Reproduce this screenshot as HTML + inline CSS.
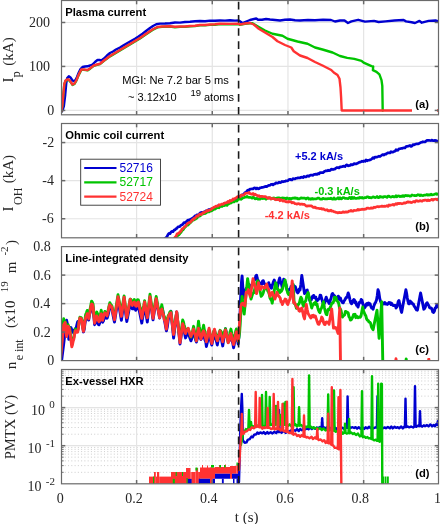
<!DOCTYPE html><html><head><meta charset="utf-8"><style>html,body{margin:0;padding:0;background:#fff;overflow:hidden}svg{display:block;will-change:transform}</style></head><body>
<svg width="440" height="524" viewBox="0 0 440 524">
<rect width="440" height="524" fill="#fff"/>
<defs>
<clipPath id="clipa"><rect x="61.5" y="0.5" width="377.0" height="114.3"/></clipPath>
<clipPath id="clipb"><rect x="61.5" y="123.5" width="377.0" height="114.30000000000001"/></clipPath>
<clipPath id="clipc"><rect x="61.5" y="246.6" width="377.0" height="114.00000000000003"/></clipPath>
<clipPath id="clipd"><rect x="61.5" y="369.5" width="377.0" height="114.30000000000001"/></clipPath>
</defs>
<line x1="136.60" y1="0.5" x2="136.60" y2="114.8" stroke="#e4e4e4" stroke-width="1.2"/>
<line x1="212.28" y1="0.5" x2="212.28" y2="114.8" stroke="#e4e4e4" stroke-width="1.2"/>
<line x1="287.96" y1="0.5" x2="287.96" y2="114.8" stroke="#e4e4e4" stroke-width="1.2"/>
<line x1="363.64" y1="0.5" x2="363.64" y2="114.8" stroke="#e4e4e4" stroke-width="1.2"/>
<line x1="61.5" y1="110.40" x2="438.5" y2="110.40" stroke="#e4e4e4" stroke-width="1.2"/>
<line x1="61.5" y1="66.44" x2="438.5" y2="66.44" stroke="#e4e4e4" stroke-width="1.2"/>
<line x1="61.5" y1="22.48" x2="438.5" y2="22.48" stroke="#e4e4e4" stroke-width="1.2"/>
<g clip-path="url(#clipa)">
<polyline points="61.30,112.00 62.50,110.50 63.80,106.50 65.20,95.00 66.30,83.00 67.20,78.00 68.80,76.30 70.50,77.50 72.50,80.50 74.00,81.30 75.50,80.00 77.00,77.00 78.80,72.50 80.50,69.00 82.50,67.00 85.00,66.50 87.50,66.30 90.00,65.50 92.50,64.50 95.00,62.00 97.50,60.00 99.50,60.00 101.30,60.50 104.00,58.50 107.00,55.50 110.00,53.00 113.00,51.50 116.00,49.50 120.00,47.50 124.00,45.00 127.50,43.00 131.00,41.00 135.00,38.75 138.50,36.50 142.50,33.75 146.00,31.00 150.00,28.00 153.00,26.00 156.30,24.30 160.00,23.60 165.00,23.50 170.00,23.25 175.00,22.50 180.00,22.60 185.00,22.00 190.00,21.80 195.00,21.25 200.00,21.00 205.00,21.20 210.00,20.60 215.00,20.80 220.00,20.50 225.00,20.60 230.00,20.30 235.00,20.60 238.75,20.50 241.00,22.00 242.50,23.00 245.00,22.00 250.00,20.00 256.25,18.50 258.00,19.80 262.00,19.80 266.00,19.00 270.00,19.50 275.00,20.00 280.00,20.50 285.00,19.80 290.00,19.50 295.00,20.20 300.00,20.50 308.00,20.00 315.00,20.20 323.00,19.80 331.00,20.00 335.00,21.50 340.00,20.50 344.50,20.50 348.00,23.00 351.40,21.40 358.20,19.80 365.00,21.60 374.00,20.90 378.60,22.00 385.50,21.40 394.50,20.50 403.60,20.00 406.00,21.40 411.60,22.30 415.00,23.00 419.50,20.90 421.80,22.70 428.60,20.90 435.50,20.50 438.50,21.40" fill="none" stroke="#0000d0" stroke-width="2.4" stroke-linejoin="round" stroke-linecap="round" />
<polyline points="61.30,111.90 62.30,106.40 63.20,96.40 64.30,84.40 65.50,80.90 67.00,79.90 68.80,79.90 70.50,81.90 72.50,84.90 74.50,83.90 76.50,80.40 78.50,75.40 81.25,69.90 84.00,69.90 87.50,70.40 90.50,68.40 93.75,65.90 97.00,64.90 100.00,64.15 104.00,60.90 110.00,56.40 115.00,53.40 120.00,50.40 125.00,47.40 130.00,44.40 135.00,41.40 140.00,38.40 145.00,34.90 152.50,29.90 157.50,27.40 162.00,26.90 170.00,26.65 175.00,27.20 180.00,26.90 185.00,26.90 190.00,26.40 195.00,26.15 200.00,25.40 205.00,25.40 210.00,24.90 215.00,24.70 220.00,24.15 230.00,24.30 238.75,24.15 240.00,24.90 245.00,23.90 250.00,23.40 252.50,23.30 257.50,26.25 265.00,30.50 272.50,33.75 282.50,35.75 287.50,38.75 297.50,41.50 307.50,43.75 315.00,47.50 322.50,49.50 332.50,52.50 340.00,56.00 347.20,57.90 354.30,58.90 361.50,60.80 363.60,62.60 371.50,66.10 373.20,66.50 372.90,70.10 376.50,71.80 379.40,74.40 381.50,80.10 382.30,85.80 382.70,110.50" fill="none" stroke="#00c400" stroke-width="2.4" stroke-linejoin="round" stroke-linecap="round" />
<polyline points="61.30,111.50 62.30,106.00 63.20,96.00 64.30,84.00 65.50,80.50 67.00,79.50 68.80,79.50 70.50,81.50 72.50,84.50 74.50,83.50 76.50,80.00 78.50,75.00 81.25,69.50 84.00,69.50 87.50,70.00 90.50,68.00 93.75,65.50 97.00,64.50 100.00,63.75 104.00,60.50 110.00,56.00 115.00,53.00 120.00,50.00 125.00,47.00 130.00,44.00 135.00,41.00 140.00,38.00 145.00,34.50 152.50,29.50 157.50,27.00 162.00,26.50 170.00,26.25 175.00,26.80 180.00,26.50 185.00,26.50 190.00,26.00 195.00,25.75 200.00,25.00 205.00,25.00 210.00,24.50 215.00,24.30 220.00,23.75 230.00,23.90 238.75,23.75 240.00,24.50 245.00,23.50 250.00,23.00 253.75,24.50 258.75,28.75 265.00,32.50 272.50,37.00 277.50,41.25 285.00,45.00 291.25,47.50 293.75,51.25 300.00,55.50 307.50,58.00 315.00,62.00 322.50,65.50 331.25,70.00 333.75,72.50 337.50,75.00 339.50,78.75 340.50,87.50 341.10,97.30 341.70,110.50 438.50,110.50" fill="none" stroke="#ff3232" stroke-width="2.4" stroke-linejoin="round" stroke-linecap="round" />
</g>
<line x1="238.6" y1="114.8" x2="238.6" y2="0.5" stroke="#1a1a1a" stroke-width="1.6" stroke-dasharray="7.7 5.46"/>
<rect x="412" y="94.4" width="25.0" height="18" fill="#fff"/><text x="415.2" y="107.7" font-family="Liberation Sans, sans-serif" font-weight="bold" font-size="11.2" fill="#000">(a)</text>
<line x1="136.60" y1="114.8" x2="136.60" y2="111.0" stroke="#6a6a6a" stroke-width="1.5"/>
<line x1="136.60" y1="0.5" x2="136.60" y2="4.3" stroke="#6a6a6a" stroke-width="1.5"/>
<line x1="212.28" y1="114.8" x2="212.28" y2="111.0" stroke="#6a6a6a" stroke-width="1.5"/>
<line x1="212.28" y1="0.5" x2="212.28" y2="4.3" stroke="#6a6a6a" stroke-width="1.5"/>
<line x1="287.96" y1="114.8" x2="287.96" y2="111.0" stroke="#6a6a6a" stroke-width="1.5"/>
<line x1="287.96" y1="0.5" x2="287.96" y2="4.3" stroke="#6a6a6a" stroke-width="1.5"/>
<line x1="363.64" y1="114.8" x2="363.64" y2="111.0" stroke="#6a6a6a" stroke-width="1.5"/>
<line x1="363.64" y1="0.5" x2="363.64" y2="4.3" stroke="#6a6a6a" stroke-width="1.5"/>
<line x1="61.5" y1="110.40" x2="65.3" y2="110.40" stroke="#6a6a6a" stroke-width="1.5"/>
<line x1="438.5" y1="110.40" x2="434.7" y2="110.40" stroke="#6a6a6a" stroke-width="1.5"/>
<line x1="61.5" y1="66.44" x2="65.3" y2="66.44" stroke="#6a6a6a" stroke-width="1.5"/>
<line x1="438.5" y1="66.44" x2="434.7" y2="66.44" stroke="#6a6a6a" stroke-width="1.5"/>
<line x1="61.5" y1="22.48" x2="65.3" y2="22.48" stroke="#6a6a6a" stroke-width="1.5"/>
<line x1="438.5" y1="22.48" x2="434.7" y2="22.48" stroke="#6a6a6a" stroke-width="1.5"/>
<rect x="61.5" y="0.5" width="377.0" height="114.3" fill="none" stroke="#6a6a6a" stroke-width="1.2"/>
<text x="65.3" y="15.5" font-family="Liberation Sans, sans-serif" font-weight="bold" font-size="11.2" fill="#000">Plasma current</text>
<text x="122.3" y="84.2" font-family="'Liberation Sans', sans-serif" font-size="11.15" fill="#000" text-anchor="start" >MGI: Ne 7.2 bar 5 ms</text>
<text x="128.0" y="100.5" font-family="'Liberation Sans', sans-serif" font-size="11" fill="#000" text-anchor="start" >~ 3.12x10</text>
<text x="190.4" y="96.2" font-family="'Liberation Sans', sans-serif" font-size="9.5" fill="#000" text-anchor="start" >19</text>
<text x="204.0" y="100.5" font-family="'Liberation Sans', sans-serif" font-size="11" fill="#000" text-anchor="start" >atoms</text>
<line x1="136.60" y1="123.5" x2="136.60" y2="237.8" stroke="#e4e4e4" stroke-width="1.2"/>
<line x1="212.28" y1="123.5" x2="212.28" y2="237.8" stroke="#e4e4e4" stroke-width="1.2"/>
<line x1="287.96" y1="123.5" x2="287.96" y2="237.8" stroke="#e4e4e4" stroke-width="1.2"/>
<line x1="363.64" y1="123.5" x2="363.64" y2="237.8" stroke="#e4e4e4" stroke-width="1.2"/>
<line x1="61.5" y1="218.75" x2="438.5" y2="218.75" stroke="#e4e4e4" stroke-width="1.2"/>
<line x1="61.5" y1="180.65" x2="438.5" y2="180.65" stroke="#e4e4e4" stroke-width="1.2"/>
<line x1="61.5" y1="142.55" x2="438.5" y2="142.55" stroke="#e4e4e4" stroke-width="1.2"/>
<g clip-path="url(#clipb)">
<polyline points="163.00,239.63 164.00,239.32 165.00,238.34 166.00,237.78 167.00,236.60 168.00,234.60 169.00,233.32 170.00,233.71 171.00,232.14 172.00,231.35 173.00,231.65 174.00,230.16 175.00,229.94 176.00,228.70 177.00,228.19 178.00,226.80 179.00,226.76 180.00,226.37 181.00,225.20 182.00,224.84 183.00,224.07 184.00,222.56 185.00,222.86 186.00,222.03 187.00,221.02 188.00,220.04 189.00,220.61 190.00,219.41 191.00,219.06 192.00,218.58 193.00,217.65 194.00,217.28 195.00,215.92 196.00,215.86 197.00,214.73 198.00,214.91 199.00,214.43 200.00,212.94 201.00,212.59 202.00,212.30 203.00,212.95 204.00,211.81 205.00,211.68 206.00,210.80 207.00,210.66 208.00,210.07 209.00,209.59 210.00,209.50 211.00,209.07 212.00,209.09 213.00,208.39 214.00,208.36 215.00,207.88 216.00,207.69 217.00,206.87 218.00,205.78 219.00,206.38 220.00,206.15 221.00,205.73 222.00,204.91 223.00,204.77 224.00,203.73 225.00,204.26 226.00,203.55 227.00,202.81 228.00,202.16 229.00,202.83 230.00,202.56 231.00,200.84 232.00,201.38 233.00,200.37 234.00,199.59 235.00,199.36 236.00,199.60 237.00,199.32 238.00,197.73 239.00,197.83 240.00,196.14 241.00,196.19 242.00,194.76 243.00,194.72 244.00,194.04 245.00,192.55 246.00,192.43 247.00,190.87 248.00,190.10 249.00,190.38 250.00,189.14 251.00,189.00 252.00,188.92 253.00,188.83 254.00,188.05 255.00,187.80 256.00,188.87 257.00,188.00 258.00,188.82 259.00,188.64 260.00,187.83 261.00,187.65 262.00,187.44 263.00,187.32 264.00,186.96 265.00,186.62 266.00,186.41 267.00,186.57 268.00,185.67 269.00,185.27 270.00,185.38 271.00,184.41 272.00,184.22 273.00,184.92 274.00,184.03 275.00,183.82 276.00,182.82 277.00,183.13 278.00,183.11 279.00,182.08 280.00,182.66 281.00,182.44 282.00,181.38 283.00,181.91 284.00,181.42 285.00,181.45 286.00,180.72 287.00,180.95 288.00,180.73 289.00,179.46 290.00,179.24 291.00,179.84 292.00,179.97 293.00,178.71 294.00,178.79 295.00,178.80 296.00,178.23 297.00,178.11 298.00,177.85 299.00,177.74 300.00,177.87 301.00,177.28 302.00,177.20 303.00,177.57 304.00,176.34 305.00,176.88 306.00,176.90 307.00,176.10 308.00,175.76 309.00,176.36 310.00,175.36 311.00,175.07 312.00,175.21 313.00,175.36 314.00,174.31 315.00,174.39 316.00,174.09 317.00,174.48 318.00,173.61 319.00,173.88 320.00,172.61 321.00,172.53 322.00,172.65 323.00,172.67 324.00,171.75 325.00,171.12 326.00,170.68 327.00,170.96 328.00,170.20 329.00,170.77 330.00,170.53 331.00,169.32 332.00,169.16 333.00,169.61 334.00,169.09 335.00,169.03 336.00,168.10 337.00,167.53 338.00,167.50 339.00,167.95 340.00,166.96 341.00,166.81 342.00,166.66 343.00,166.41 344.00,166.14 345.00,166.60 346.00,165.27 347.00,164.81 348.00,165.89 349.00,165.58 350.00,165.50 351.00,164.50 352.00,164.99 353.00,164.73 354.00,163.52 355.00,164.03 356.00,163.93 357.00,163.46 358.00,163.03 359.00,162.40 360.00,162.18 361.00,161.72 362.00,161.20 363.00,161.62 364.00,160.90 365.00,161.33 366.00,159.96 367.00,160.87 368.00,160.27 369.00,160.25 370.00,159.88 371.00,159.54 372.00,158.75 373.00,157.62 374.00,158.31 375.00,157.17 376.00,157.01 377.00,157.18 378.00,156.64 379.00,156.15 380.00,156.54 381.00,155.74 382.00,155.02 383.00,154.55 384.00,155.06 385.00,154.18 386.00,154.27 387.00,153.32 388.00,152.76 389.00,152.89 390.00,152.94 391.00,151.70 392.00,152.22 393.00,152.06 394.00,151.56 395.00,151.24 396.00,149.76 397.00,150.28 398.00,150.27 399.00,148.79 400.00,148.76 401.00,148.41 402.00,148.47 403.00,148.03 404.00,147.81 405.00,147.94 406.00,146.56 407.00,146.34 408.00,146.15 409.00,145.86 410.00,145.48 411.00,146.46 412.00,146.00 413.00,144.62 414.00,144.90 415.00,144.35 416.00,144.04 417.00,143.80 418.00,143.91 419.00,143.53 420.00,142.91 421.00,142.38 422.00,142.27 423.00,141.68 424.00,141.98 425.00,141.91 426.00,141.13 427.00,140.41 428.00,140.34 429.00,140.40 430.00,140.52 431.00,140.56 432.00,140.01 433.00,140.71 434.00,140.56 435.00,140.40 436.00,140.58 437.00,141.01 438.00,141.56" fill="none" stroke="#0000d0" stroke-width="2.7" stroke-linejoin="round" stroke-linecap="round" />
<polyline points="173.00,240.63 174.00,239.41 175.00,238.79 176.00,237.40 177.00,236.05 178.00,235.30 179.00,234.80 180.00,233.42 181.00,232.31 182.00,230.49 183.00,229.87 184.00,228.45 185.00,227.24 186.00,226.11 187.00,225.22 188.00,225.18 189.00,224.00 190.00,222.93 191.00,222.21 192.00,220.65 193.00,220.11 194.00,219.84 195.00,219.28 196.00,218.74 197.00,218.07 198.00,216.25 199.00,216.34 200.00,215.90 201.00,215.13 202.00,214.14 203.00,214.03 204.00,212.96 205.00,213.61 206.00,213.10 207.00,212.24 208.00,211.49 209.00,211.93 210.00,211.05 211.00,211.07 212.00,210.61 213.00,209.74 214.00,209.22 215.00,209.09 216.00,208.46 217.00,207.69 218.00,207.51 219.00,207.83 220.00,206.36 221.00,206.04 222.00,206.52 223.00,205.70 224.00,205.73 225.00,205.31 226.00,204.80 227.00,205.39 228.00,203.94 229.00,203.79 230.00,203.02 231.00,203.14 232.00,202.17 233.00,201.80 234.00,201.98 235.00,201.01 236.00,200.97 237.00,201.08 238.00,199.59 239.00,199.14 240.00,198.95 241.00,199.29 242.00,198.66 243.00,197.79 244.00,197.58 245.00,197.03 246.00,197.08 247.00,196.33 248.00,197.19 249.00,197.41 250.00,197.44 251.00,197.50 252.00,198.19 253.00,197.25 254.00,197.80 255.00,198.86 256.00,198.71 257.00,198.32 258.00,199.19 259.00,198.85 260.00,199.25 261.00,198.48 262.00,198.32 263.00,198.64 264.00,198.19 265.00,198.50 266.00,199.29 267.00,198.38 268.00,197.91 269.00,197.93 270.00,198.08 271.00,198.91 272.00,198.31 273.00,198.20 274.00,197.92 275.00,199.16 276.00,198.37 277.00,198.07 278.00,197.85 279.00,197.84 280.00,198.00 281.00,198.70 282.00,197.96 283.00,197.80 284.00,198.43 285.00,198.09 286.00,199.13 287.00,197.90 288.00,198.47 289.00,198.80 290.00,198.29 291.00,199.09 292.00,198.37 293.00,198.04 294.00,198.28 295.00,197.77 296.00,198.32 297.00,198.08 298.00,198.99 299.00,198.92 300.00,198.46 301.00,197.82 302.00,198.14 303.00,198.13 304.00,198.09 305.00,198.13 306.00,199.04 307.00,198.02 308.00,197.91 309.00,199.14 310.00,198.65 311.00,199.25 312.00,198.44 313.00,199.14 314.00,198.81 315.00,199.01 316.00,198.93 317.00,198.57 318.00,198.00 319.00,198.16 320.00,199.08 321.00,199.10 322.00,199.13 323.00,198.30 324.00,198.74 325.00,198.93 326.00,198.70 327.00,198.93 328.00,198.52 329.00,198.69 330.00,198.72 331.00,198.13 332.00,199.03 333.00,199.07 334.00,197.83 335.00,199.07 336.00,199.05 337.00,198.62 338.00,197.72 339.00,198.89 340.00,197.78 341.00,198.93 342.00,198.48 343.00,197.60 344.00,197.72 345.00,198.35 346.00,198.23 347.00,198.45 348.00,198.68 349.00,197.66 350.00,197.33 351.00,198.59 352.00,197.29 353.00,198.47 354.00,197.37 355.00,198.32 356.00,198.25 357.00,198.36 358.00,197.87 359.00,198.30 360.00,197.32 361.00,197.94 362.00,197.43 363.00,198.19 364.00,197.99 365.00,197.53 366.00,197.58 367.00,196.84 368.00,196.82 369.00,197.57 370.00,197.39 371.00,197.89 372.00,197.50 373.00,196.81 374.00,197.09 375.00,197.62 376.00,197.25 377.00,196.50 378.00,197.62 379.00,197.57 380.00,196.50 381.00,197.09 382.00,196.82 383.00,197.35 384.00,196.64 385.00,196.49 386.00,196.80 387.00,197.42 388.00,196.16 389.00,196.14 390.00,196.81 391.00,197.13 392.00,196.57 393.00,196.41 394.00,196.96 395.00,196.81 396.00,195.77 397.00,196.87 398.00,195.86 399.00,195.97 400.00,196.67 401.00,196.04 402.00,196.52 403.00,195.58 404.00,196.52 405.00,195.50 406.00,195.41 407.00,195.84 408.00,195.57 409.00,195.81 410.00,196.27 411.00,195.94 412.00,194.91 413.00,195.29 414.00,195.56 415.00,195.43 416.00,195.70 417.00,195.33 418.00,194.71 419.00,194.89 420.00,195.69 421.00,194.93 422.00,195.44 423.00,195.69 424.00,195.12 425.00,195.12 426.00,194.96 427.00,194.48 428.00,195.26 429.00,194.57 430.00,195.13 431.00,194.21 432.00,194.94 433.00,194.76 434.00,194.45 435.00,194.15 436.00,193.66 437.00,194.48 438.00,193.84" fill="none" stroke="#00c400" stroke-width="2.7" stroke-linejoin="round" stroke-linecap="round" />
<polyline points="171.00,241.17 172.00,240.37 173.00,239.48 174.00,238.72 175.00,237.30 176.00,236.40 177.00,233.99 178.00,233.45 179.00,233.14 180.00,231.75 181.00,231.13 182.00,229.04 183.00,228.55 184.00,227.21 185.00,226.61 186.00,225.63 187.00,223.82 188.00,223.27 189.00,222.52 190.00,222.58 191.00,221.54 192.00,219.87 193.00,219.98 194.00,218.28 195.00,218.17 196.00,216.70 197.00,215.75 198.00,216.19 199.00,214.58 200.00,214.06 201.00,214.60 202.00,213.92 203.00,212.57 204.00,212.98 205.00,211.85 206.00,211.58 207.00,210.46 208.00,211.02 209.00,210.20 210.00,210.12 211.00,209.56 212.00,208.26 213.00,207.90 214.00,207.18 215.00,206.71 216.00,206.16 217.00,206.05 218.00,206.03 219.00,204.75 220.00,205.25 221.00,204.41 222.00,204.00 223.00,204.35 224.00,203.51 225.00,202.91 226.00,202.78 227.00,202.73 228.00,201.45 229.00,202.25 230.00,200.39 231.00,200.89 232.00,200.50 233.00,198.83 234.00,199.44 235.00,198.39 236.00,198.22 237.00,196.96 238.00,196.55 239.00,196.23 240.00,196.77 241.00,195.16 242.00,195.40 243.00,195.10 244.00,194.78 245.00,193.60 246.00,193.28 247.00,193.17 248.00,193.19 249.00,192.50 250.00,193.65 251.00,193.97 252.00,194.30 253.00,193.45 254.00,195.02 255.00,194.13 256.00,194.78 257.00,195.46 258.00,196.19 259.00,195.68 260.00,196.79 261.00,196.46 262.00,196.33 263.00,196.54 264.00,196.54 265.00,196.60 266.00,196.90 267.00,197.85 268.00,198.48 269.00,197.51 270.00,197.55 271.00,199.06 272.00,198.62 273.00,198.64 274.00,198.59 275.00,199.29 276.00,199.80 277.00,199.48 278.00,199.62 279.00,199.30 280.00,200.70 281.00,199.65 282.00,200.49 283.00,201.17 284.00,200.38 285.00,201.41 286.00,201.92 287.00,201.66 288.00,202.08 289.00,201.32 290.00,201.98 291.00,201.78 292.00,202.95 293.00,202.37 294.00,202.79 295.00,203.75 296.00,203.74 297.00,204.11 298.00,203.57 299.00,203.81 300.00,204.35 301.00,204.19 302.00,204.12 303.00,204.48 304.00,204.31 305.00,204.83 306.00,205.91 307.00,206.10 308.00,205.86 309.00,205.91 310.00,205.91 311.00,205.79 312.00,206.27 313.00,207.21 314.00,207.56 315.00,207.08 316.00,207.90 317.00,208.11 318.00,208.23 319.00,208.41 320.00,208.77 321.00,208.45 322.00,209.15 323.00,208.78 324.00,209.30 325.00,209.92 326.00,210.04 327.00,209.71 328.00,210.85 329.00,210.66 330.00,210.79 331.00,210.22 332.00,211.20 333.00,211.01 334.00,211.82 335.00,211.76 336.00,212.48 337.00,212.47 338.00,212.90 339.00,212.32 340.00,212.59 341.00,212.59 342.00,212.57 343.00,211.76 344.00,212.31 345.00,212.21 346.00,211.82 347.00,212.08 348.00,211.92 349.00,211.16 350.00,211.04 351.00,210.38 352.00,211.17 353.00,211.16 354.00,210.37 355.00,210.52 356.00,210.41 357.00,210.27 358.00,209.34 359.00,210.04 360.00,209.61 361.00,209.61 362.00,209.15 363.00,209.31 364.00,209.40 365.00,209.09 366.00,209.09 367.00,208.00 368.00,208.06 369.00,208.34 370.00,208.51 371.00,207.77 372.00,208.29 373.00,208.07 374.00,207.11 375.00,207.58 376.00,207.10 377.00,206.72 378.00,206.69 379.00,206.81 380.00,206.48 381.00,206.36 382.00,205.99 383.00,206.45 384.00,206.19 385.00,206.37 386.00,206.20 387.00,205.56 388.00,206.35 389.00,204.94 390.00,205.37 391.00,204.99 392.00,204.97 393.00,204.36 394.00,205.16 395.00,204.32 396.00,203.65 397.00,204.26 398.00,203.33 399.00,203.76 400.00,203.28 401.00,203.46 402.00,203.84 403.00,203.50 404.00,202.79 405.00,203.19 406.00,202.80 407.00,202.27 408.00,201.80 409.00,202.28 410.00,202.09 411.00,202.54 412.00,202.46 413.00,201.85 414.00,201.39 415.00,202.05 416.00,200.70 417.00,200.75 418.00,201.29 419.00,201.26 420.00,200.50 421.00,201.06 422.00,201.31 423.00,200.47 424.00,200.42 425.00,200.02 426.00,199.99 427.00,200.82 428.00,199.87 429.00,200.57 430.00,200.38 431.00,199.84 432.00,199.28 433.00,200.19 434.00,199.42 435.00,199.21 436.00,198.98 437.00,199.82 438.00,199.04" fill="none" stroke="#ff3232" stroke-width="2.7" stroke-linejoin="round" stroke-linecap="round" />
</g>
<line x1="238.6" y1="237.8" x2="238.6" y2="123.5" stroke="#1a1a1a" stroke-width="1.6" stroke-dasharray="7.7 5.46"/>
<rect x="412" y="216.7" width="25.0" height="18" fill="#fff"/><text x="415.2" y="230.0" font-family="Liberation Sans, sans-serif" font-weight="bold" font-size="11.2" fill="#000">(b)</text>
<line x1="136.60" y1="237.8" x2="136.60" y2="234.0" stroke="#6a6a6a" stroke-width="1.5"/>
<line x1="136.60" y1="123.5" x2="136.60" y2="127.3" stroke="#6a6a6a" stroke-width="1.5"/>
<line x1="212.28" y1="237.8" x2="212.28" y2="234.0" stroke="#6a6a6a" stroke-width="1.5"/>
<line x1="212.28" y1="123.5" x2="212.28" y2="127.3" stroke="#6a6a6a" stroke-width="1.5"/>
<line x1="287.96" y1="237.8" x2="287.96" y2="234.0" stroke="#6a6a6a" stroke-width="1.5"/>
<line x1="287.96" y1="123.5" x2="287.96" y2="127.3" stroke="#6a6a6a" stroke-width="1.5"/>
<line x1="363.64" y1="237.8" x2="363.64" y2="234.0" stroke="#6a6a6a" stroke-width="1.5"/>
<line x1="363.64" y1="123.5" x2="363.64" y2="127.3" stroke="#6a6a6a" stroke-width="1.5"/>
<line x1="61.5" y1="218.75" x2="65.3" y2="218.75" stroke="#6a6a6a" stroke-width="1.5"/>
<line x1="438.5" y1="218.75" x2="434.7" y2="218.75" stroke="#6a6a6a" stroke-width="1.5"/>
<line x1="61.5" y1="180.65" x2="65.3" y2="180.65" stroke="#6a6a6a" stroke-width="1.5"/>
<line x1="438.5" y1="180.65" x2="434.7" y2="180.65" stroke="#6a6a6a" stroke-width="1.5"/>
<line x1="61.5" y1="142.55" x2="65.3" y2="142.55" stroke="#6a6a6a" stroke-width="1.5"/>
<line x1="438.5" y1="142.55" x2="434.7" y2="142.55" stroke="#6a6a6a" stroke-width="1.5"/>
<rect x="61.5" y="123.5" width="377.0" height="114.30000000000001" fill="none" stroke="#6a6a6a" stroke-width="1.2"/>
<text x="65.3" y="138.5" font-family="Liberation Sans, sans-serif" font-weight="bold" font-size="11.2" fill="#000">Ohmic coil current</text>
<text x="295.0" y="160.0" font-family="'Liberation Sans', sans-serif" font-size="11" fill="#0000d0" text-anchor="start" font-weight="bold">+5.2 kA/s</text>
<text x="314.5" y="194.6" font-family="'Liberation Sans', sans-serif" font-size="11" fill="#00c400" text-anchor="start" font-weight="bold">-0.3 kA/s</text>
<text x="264.7" y="218.8" font-family="'Liberation Sans', sans-serif" font-size="11" fill="#ff3232" text-anchor="start" font-weight="bold">-4.2 kA/s</text>
<rect x="80.7" y="159.2" width="79.8" height="46" fill="#fff" stroke="#333" stroke-width="0.9"/>
<line x1="84.2" y1="168.0" x2="116.5" y2="168.0" stroke="#0000d0" stroke-width="2.2"/>
<text x="119.5" y="172.1" font-family="'Liberation Sans', sans-serif" font-size="12" fill="#0000d0" text-anchor="start" >52716</text>
<line x1="84.2" y1="182.3" x2="116.5" y2="182.3" stroke="#00c400" stroke-width="2.2"/>
<text x="119.5" y="186.4" font-family="'Liberation Sans', sans-serif" font-size="12" fill="#00c400" text-anchor="start" >52717</text>
<line x1="84.2" y1="196.6" x2="116.5" y2="196.6" stroke="#ff3232" stroke-width="2.2"/>
<text x="119.5" y="200.7" font-family="'Liberation Sans', sans-serif" font-size="12" fill="#ff3232" text-anchor="start" >52724</text>
<line x1="136.60" y1="246.6" x2="136.60" y2="360.6" stroke="#e4e4e4" stroke-width="1.2"/>
<line x1="212.28" y1="246.6" x2="212.28" y2="360.6" stroke="#e4e4e4" stroke-width="1.2"/>
<line x1="287.96" y1="246.6" x2="287.96" y2="360.6" stroke="#e4e4e4" stroke-width="1.2"/>
<line x1="363.64" y1="246.6" x2="363.64" y2="360.6" stroke="#e4e4e4" stroke-width="1.2"/>
<line x1="61.5" y1="332.10" x2="438.5" y2="332.10" stroke="#e4e4e4" stroke-width="1.2"/>
<line x1="61.5" y1="303.60" x2="438.5" y2="303.60" stroke="#e4e4e4" stroke-width="1.2"/>
<line x1="61.5" y1="275.10" x2="438.5" y2="275.10" stroke="#e4e4e4" stroke-width="1.2"/>
<g clip-path="url(#clipc)">
<polyline points="61.50,361.50 62.23,355.60 62.97,349.70 63.70,343.80 64.42,337.93 65.15,332.05 65.88,326.18 66.60,320.30 67.35,323.83 68.10,329.00 68.80,339.40 69.53,335.47 70.27,330.45 71.00,327.60 71.75,330.10 72.50,329.69 73.25,332.19 74.00,333.50 74.72,332.52 75.44,328.49 76.16,327.98 76.88,324.88 77.60,321.80 78.37,321.31 79.13,320.92 79.90,319.86 81.30,319.33 82.03,323.80 82.77,327.28 83.50,331.93 84.23,329.39 84.97,323.36 85.70,319.54 86.45,319.16 87.20,315.69 87.95,319.01 88.70,320.08 89.42,315.12 90.15,312.40 90.88,309.66 91.60,306.28 92.35,309.57 93.10,310.84 93.85,316.75 94.60,324.72 95.33,323.22 96.07,320.55 96.80,319.11 97.53,321.92 98.27,324.26 99.00,324.79 99.73,322.88 100.47,318.31 101.20,316.53 102.60,322.28 103.37,321.04 104.13,317.94 104.90,316.06 105.63,317.88 106.37,317.44 107.10,318.26 108.00,315.42 108.90,311.53 109.80,305.83 110.80,307.56 111.80,307.21 112.70,313.20 113.60,318.13 114.50,322.07 115.20,317.56 115.90,313.05 116.60,308.53 117.30,304.02 118.00,299.51 118.85,304.73 119.70,309.94 120.55,315.16 121.40,320.37 122.30,313.88 123.20,307.39 124.10,300.90 125.00,307.79 125.90,314.69 126.80,321.58 127.65,317.04 128.50,312.49 129.35,307.95 130.20,303.41 130.90,305.52 131.60,306.00 132.30,308.86 133.30,308.71 134.30,305.45 135.70,310.39 136.60,308.85 137.50,306.00 138.40,306.12 139.25,310.37 140.10,314.63 140.95,318.88 141.80,323.14 142.73,317.23 143.67,311.32 144.60,305.41 145.50,310.93 146.40,316.46 147.30,321.98 148.20,314.06 149.10,306.13 150.00,298.21 150.75,303.63 151.50,309.05 152.25,314.48 153.00,319.90 153.80,314.88 154.60,309.87 155.40,304.85 156.20,299.84 157.05,304.36 157.90,308.89 158.75,313.42 159.60,317.95 160.33,314.14 161.07,310.47 161.80,307.14 162.70,310.24 163.60,315.25 164.30,319.15 165.00,323.05 165.70,326.95 166.40,330.85 167.30,326.99 168.20,320.18 169.10,315.97 170.00,315.54 170.90,311.27 171.80,320.22 172.70,329.16 173.60,338.11 174.38,331.55 175.15,324.98 175.92,318.42 176.70,311.86 177.52,319.92 178.35,327.97 179.18,336.03 180.00,344.09 180.90,337.82 181.80,331.55 182.70,325.29 183.40,328.61 184.10,330.58 184.80,334.31 185.50,337.93 186.40,335.63 187.30,332.42 188.20,331.51 189.10,335.47 190.00,338.24 190.90,340.88 191.80,338.53 192.70,334.15 193.60,329.20 194.30,333.34 195.00,337.24 195.70,340.25 196.40,342.10 197.45,338.07 198.50,333.12 199.30,335.39 200.10,337.48 200.90,339.55 201.80,338.01 202.70,335.83 203.60,331.93 204.30,336.64 205.00,340.32 205.70,341.37 206.40,346.53 207.30,342.38 208.20,337.41 209.10,334.83 210.00,338.52 210.90,341.92 211.80,345.08 212.70,340.72 213.60,337.12 214.50,331.42 215.20,333.93 215.90,338.94 216.60,341.87 217.30,344.99 218.20,339.88 219.10,338.13 220.00,332.40 220.90,335.48 221.80,341.30 222.70,345.91 223.40,341.64 224.10,337.37 224.80,333.09 225.50,328.82 226.40,333.09 227.30,337.44 228.20,341.29 229.10,340.59 230.00,336.97 230.90,334.57 231.80,340.24 232.70,342.77 233.60,347.85 234.30,344.07 235.00,339.27 235.70,337.12 236.40,332.95 237.30,338.20 238.20,343.95 239.50,330.00 240.50,300.00 241.50,282.00 242.10,275.90 242.80,286.80 243.50,297.70 244.50,295.21 245.50,290.90 246.20,288.31 246.90,288.09 247.60,288.32 248.30,285.50 249.03,284.44 249.77,287.01 250.50,287.00 251.33,286.13 252.17,284.86 253.00,282.70 253.70,281.38 254.40,279.70 255.10,279.67 255.80,276.01 256.50,275.20 257.50,278.95 258.50,281.40 259.35,282.61 260.20,283.48 261.05,283.35 261.90,284.10 262.60,280.85 263.30,280.70 264.20,283.61 265.10,284.06 266.00,286.80 266.90,286.34 267.80,285.63 268.70,282.70 269.40,284.96 270.10,285.14 270.80,287.97 271.50,288.20 272.40,285.10 273.30,282.16 274.20,280.00 275.10,282.96 276.00,285.96 276.90,288.20 277.60,286.24 278.30,283.27 279.00,280.26 279.70,278.00 280.60,282.18 281.50,284.24 282.40,288.20 283.70,279.30 284.52,281.96 285.34,282.36 286.16,285.08 286.98,289.76 287.80,290.90 288.53,289.69 289.27,290.02 290.00,290.00 291.00,286.57 292.00,286.00 292.83,286.95 293.67,285.65 294.50,286.30 295.33,286.76 296.17,289.38 297.00,292.00 297.75,292.88 298.50,291.82 299.25,288.91 300.00,290.00 300.90,284.15 301.80,275.40 302.70,281.43 303.60,287.47 304.50,293.50 305.40,290.96 306.30,291.12 307.20,290.00 308.10,293.71 309.00,298.11 309.90,300.80 310.64,298.57 311.38,299.68 312.12,296.84 312.86,297.24 313.60,295.40 314.32,297.85 315.04,297.85 315.76,297.05 316.48,300.25 317.20,300.80 317.92,299.51 318.64,299.38 319.36,298.47 320.08,295.22 320.80,295.40 321.70,298.62 322.60,301.86 323.50,304.40 324.40,303.36 325.30,299.96 326.20,297.20 326.90,299.14 327.60,301.21 328.30,300.84 329.00,303.50 329.72,302.65 330.44,299.76 331.16,297.94 331.88,294.39 332.60,293.50 333.32,294.67 334.04,295.41 334.76,295.86 335.48,299.31 336.20,299.00 336.90,299.61 337.60,297.87 338.30,296.14 339.00,297.00 339.70,299.67 340.40,298.02 341.10,300.38 341.80,301.69 342.50,302.60 343.20,302.84 343.90,301.30 344.60,300.23 345.30,299.00 346.02,297.54 346.75,297.53 347.48,295.52 348.20,293.00 349.02,295.24 349.85,299.34 350.68,302.53 351.50,303.80 352.25,302.81 353.00,300.57 353.75,299.56 354.50,300.00 355.20,302.90 355.90,301.87 356.60,305.17 357.30,304.62 358.00,307.00 358.80,304.22 359.60,302.11 360.40,302.31 361.20,299.40 362.00,300.24 362.80,303.61 363.60,306.84 364.40,308.00 365.22,307.09 366.04,304.43 366.86,303.45 367.68,305.06 368.50,303.00 369.27,303.39 370.03,303.73 370.80,306.18 371.57,308.04 372.33,307.54 373.10,309.20 373.95,305.73 374.80,303.59 375.65,302.22 376.50,300.00 377.25,295.75 378.00,289.70 378.87,292.33 379.73,298.47 380.60,301.60 381.45,302.78 382.30,302.99 383.15,303.03 384.00,304.00 384.84,302.46 385.68,303.93 386.52,303.60 387.36,304.41 388.20,303.80 388.92,302.60 389.63,303.13 390.35,302.86 391.07,304.56 391.78,303.39 392.50,305.00 393.22,305.44 393.93,305.46 394.65,305.46 395.37,305.34 396.08,308.01 396.80,307.00 397.53,304.77 398.27,301.39 399.00,300.50 399.87,304.72 400.73,309.28 401.60,312.40 402.32,308.62 403.03,304.83 403.75,301.05 404.47,297.27 405.18,293.48 405.90,289.70 406.60,293.19 407.30,298.00 408.00,301.36 408.70,303.80 409.47,303.78 410.23,301.08 411.00,302.00 411.77,302.69 412.55,304.03 413.33,303.94 414.10,306.00 414.93,307.05 415.75,308.64 416.57,309.96 417.40,310.20 418.20,305.90 419.00,301.60 419.80,297.30 420.60,293.00 421.40,297.05 422.20,301.10 423.00,305.15 423.80,309.20 424.62,308.41 425.45,306.74 426.28,303.68 427.10,302.70 427.90,304.38 428.70,305.35 429.50,307.50 430.30,308.00 431.12,307.89 431.95,309.16 432.78,311.99 433.60,312.40 434.40,311.27 435.20,307.83 436.00,307.71 436.80,305.00 437.60,306.63 438.40,306.97 439.20,307.13 440.00,308.00" fill="none" stroke="#0000d0" stroke-width="2.9" stroke-linejoin="round" stroke-linecap="round" />
<polyline points="60.90,352.00 61.70,342.00 62.50,332.00 63.70,318.80 64.60,321.93 65.50,322.00 66.60,334.19 67.35,327.99 68.10,324.64 68.85,326.77 69.60,327.46 70.33,333.19 71.07,338.92 71.80,344.65 72.50,341.73 73.20,338.92 73.93,337.04 74.67,332.04 75.40,329.05 76.13,331.03 76.87,329.24 77.60,330.96 78.37,327.99 79.13,321.58 79.90,317.30 81.30,317.68 82.03,320.86 82.77,325.58 83.50,330.27 84.23,324.95 84.97,319.62 85.70,314.29 86.45,312.78 87.20,310.44 87.95,311.91 88.70,316.37 89.42,312.56 90.15,308.74 90.88,304.93 91.60,301.12 92.35,302.35 93.10,304.31 93.85,312.63 94.60,320.96 95.33,316.44 96.07,313.67 96.80,312.09 97.53,313.64 98.27,316.45 99.00,319.92 99.73,315.96 100.47,314.33 101.20,310.20 102.60,318.00 103.37,315.54 104.13,314.76 104.90,311.43 105.63,313.28 106.37,313.85 107.10,313.16 108.00,311.13 108.90,306.47 109.80,302.77 110.80,304.71 111.80,305.55 112.70,310.58 113.60,313.31 114.50,316.98 115.20,312.52 115.90,308.07 116.60,303.62 117.30,299.16 118.00,294.71 118.85,299.21 119.70,303.72 120.55,308.23 121.40,312.74 122.30,307.14 123.20,301.54 124.10,295.94 125.00,302.89 125.90,309.83 126.80,316.77 127.65,312.36 128.50,307.95 129.35,303.54 130.20,299.13 130.90,299.38 131.60,301.99 132.30,303.32 133.30,301.49 134.30,299.46 135.70,303.38 136.60,301.21 137.50,299.79 138.40,299.96 139.25,303.71 140.10,307.46 140.95,311.21 141.80,314.96 142.73,309.18 143.67,306.05 144.60,300.64 145.50,306.03 146.40,311.42 147.30,316.81 148.20,309.26 149.10,301.72 150.00,294.17 150.75,299.43 151.50,304.69 152.25,309.95 153.00,315.21 153.80,310.54 154.60,305.88 155.40,301.21 156.20,296.55 157.05,301.27 157.90,306.00 158.75,310.73 159.60,315.45 160.33,312.86 161.07,308.77 161.80,304.67 162.70,310.18 163.60,316.15 164.30,316.54 165.00,318.37 165.70,322.35 166.40,323.76 167.30,319.84 168.20,315.73 169.10,314.19 170.00,311.87 170.90,311.52 171.80,318.53 172.70,325.54 173.60,332.54 174.38,327.47 175.15,322.39 175.92,317.32 176.70,312.24 177.52,319.26 178.35,326.28 179.18,333.30 180.00,340.32 180.90,333.55 181.80,326.79 182.70,320.02 183.40,321.70 184.10,324.76 184.80,327.48 185.50,331.55 186.40,330.93 187.30,329.07 188.20,328.75 189.10,331.69 190.00,334.06 190.90,337.05 191.80,333.62 192.70,330.66 193.60,326.30 194.30,330.77 195.00,332.32 195.70,338.49 196.40,340.59 197.45,330.88 198.50,321.18 199.30,326.72 200.10,331.03 200.90,334.43 201.80,331.22 202.70,329.77 203.60,325.27 204.30,329.80 205.00,331.51 205.70,336.48 206.40,339.41 207.30,337.47 208.20,334.10 209.10,330.23 210.00,334.26 210.90,335.82 211.80,338.48 212.70,336.24 213.60,331.56 214.50,330.13 215.20,333.19 215.90,334.07 216.60,338.46 217.30,340.28 218.20,338.26 219.10,333.25 220.00,330.35 220.90,331.33 221.80,333.61 222.70,337.42 223.40,335.29 224.10,331.95 224.80,331.63 225.50,328.68 226.40,333.68 227.30,337.98 228.20,342.63 229.10,338.66 230.00,332.48 230.90,329.08 231.80,333.29 232.70,336.32 233.60,342.11 234.30,338.96 235.00,336.45 235.70,331.10 236.40,328.91 237.30,335.70 238.20,341.29 239.00,337.22 239.80,330.00 241.00,310.00 242.10,296.40 243.15,305.25 244.20,314.10 245.05,305.23 245.90,296.35 246.75,287.48 247.60,278.60 248.45,283.73 249.30,288.85 250.15,293.98 251.00,299.10 251.70,296.72 252.40,294.53 253.10,292.85 253.80,292.89 254.50,290.00 255.32,286.33 256.15,286.23 256.98,282.26 257.80,280.70 258.65,284.62 259.50,288.55 260.35,292.47 261.20,296.40 261.90,295.62 262.60,294.44 263.30,292.71 264.00,290.00 264.75,288.26 265.50,288.65 266.25,287.16 267.00,287.00 267.75,290.95 268.50,291.84 269.25,294.19 270.00,298.00 270.73,299.43 271.47,300.14 272.20,303.20 273.05,298.07 273.90,292.95 274.75,287.82 275.60,282.70 276.33,284.14 277.05,288.00 277.77,289.12 278.50,292.00 279.20,290.59 279.90,292.59 280.60,290.04 281.30,291.35 282.00,290.00 282.77,288.09 283.55,285.18 284.33,282.98 285.10,280.00 286.00,284.59 286.90,289.76 287.80,293.00 288.53,294.42 289.27,293.86 290.00,295.40 290.77,293.07 291.55,289.77 292.33,288.28 293.10,284.10 294.20,303.50 294.95,303.40 295.70,305.60 296.45,308.37 297.20,308.00 297.94,304.46 298.68,304.41 299.42,302.80 300.16,299.71 300.90,297.20 301.80,298.78 302.70,304.08 303.60,306.20 304.35,303.18 305.10,301.73 305.85,300.41 306.60,296.54 307.35,294.05 308.10,292.60 308.82,295.68 309.54,298.76 310.26,301.84 310.98,304.92 311.70,308.00 312.46,305.57 313.22,305.10 313.98,303.13 314.74,303.82 315.50,302.00 316.23,304.82 316.97,304.11 317.70,307.39 318.43,310.00 319.17,311.72 319.90,312.60 320.62,309.67 321.34,308.34 322.06,306.64 322.78,303.95 323.50,301.70 324.40,307.53 325.30,311.48 326.20,314.40 326.92,314.66 327.63,310.73 328.35,309.18 329.07,309.75 329.78,308.49 330.50,307.00 331.30,304.62 332.10,302.91 332.90,303.02 333.70,301.41 334.50,297.28 335.30,297.20 336.02,297.43 336.74,300.78 337.46,301.27 338.18,301.85 338.90,304.40 339.62,308.38 340.34,308.93 341.06,310.67 341.78,314.28 342.50,317.10 343.24,315.72 343.98,315.41 344.72,314.71 345.46,311.44 346.20,311.70 347.20,312.26 348.20,313.00 348.93,316.62 349.67,317.62 350.40,320.00 351.20,319.87 352.00,318.53 352.80,316.85 353.60,314.50 354.33,315.53 355.07,314.35 355.80,317.70 356.53,316.06 357.27,316.63 358.00,317.80 358.75,317.36 359.50,317.01 360.25,317.32 361.00,316.00 361.85,311.63 362.70,307.00 363.48,310.73 364.26,312.67 365.04,314.61 365.82,315.80 366.60,318.90 367.40,320.14 368.20,320.50 369.00,322.13 369.80,322.10 370.62,323.28 371.45,326.84 372.28,328.48 373.10,329.70 373.88,325.80 374.66,321.90 375.44,318.00 376.22,314.10 377.00,310.20 377.70,319.57 378.40,328.93 379.10,338.30 379.97,326.07 380.83,313.83 381.70,301.60 382.80,363.00 383.52,361.97 384.23,364.40 384.95,362.95 385.66,362.81 386.38,362.48 387.09,362.64 387.81,363.96 388.52,364.35 389.24,362.90 389.96,363.10 390.67,362.90 391.39,361.79 392.10,364.24 392.82,362.74 393.53,361.49 394.25,362.15 394.97,362.36 395.68,363.91 396.40,361.97 397.11,361.90 397.83,364.29 398.54,362.38 399.26,364.38 399.98,361.43 400.69,361.69 401.41,362.07 402.12,362.65 402.84,363.12 403.55,362.45 404.27,364.48 404.98,364.42 405.70,363.00 406.20,359.00 406.70,363.00 407.41,363.22 408.11,364.55 408.82,364.16 409.53,364.52 410.23,363.28 410.94,361.74 411.65,363.21 412.35,361.56 413.06,362.71 413.77,364.58 414.47,362.66 415.18,363.59 415.89,364.44 416.59,363.67 417.30,362.62 418.01,363.04 418.71,361.79 419.42,363.90 420.13,363.47 420.83,362.44 421.54,362.78 422.25,364.13 422.95,361.56 423.66,362.10 424.37,363.41 425.07,363.93 425.78,363.13 426.49,363.42 427.19,361.43 427.90,363.23 428.61,363.18 429.31,361.63 430.02,363.09 430.73,362.21 431.43,362.50 432.14,363.93 432.85,364.08 433.55,361.44 434.26,361.68 434.97,363.44 435.67,364.36 436.38,363.42 437.09,362.49 437.79,363.78 438.50,363.00" fill="none" stroke="#00c400" stroke-width="2.9" stroke-linejoin="round" stroke-linecap="round" />
<polyline points="60.70,357.00 61.45,348.95 62.20,340.90 62.95,332.80 63.70,324.70 65.10,322.50 65.85,329.87 66.60,336.50 67.35,332.60 68.10,326.20 68.85,327.51 69.60,329.10 70.33,335.00 71.07,340.90 71.80,346.80 72.50,344.53 73.20,340.90 73.93,338.87 74.67,334.10 75.40,330.60 76.13,331.85 76.87,332.33 77.60,332.10 78.37,328.58 79.13,321.28 79.90,318.10 81.30,318.80 82.03,321.91 82.77,328.72 83.50,331.30 84.23,327.46 84.97,321.27 85.70,317.40 86.45,316.33 87.20,313.70 87.95,315.19 88.70,318.80 89.42,314.68 90.15,311.26 90.88,306.91 91.60,304.10 92.35,304.44 93.10,307.10 93.85,315.15 94.60,323.20 95.33,320.79 96.07,318.80 96.80,315.90 97.53,317.29 98.27,320.35 99.00,321.80 99.73,320.64 100.47,314.98 101.20,313.70 102.60,320.30 103.37,317.12 104.13,314.06 104.90,312.90 105.63,314.50 106.37,314.69 107.10,316.00 108.00,312.07 108.90,307.72 109.80,304.80 110.80,306.69 111.80,306.80 112.70,311.96 113.60,315.30 114.50,319.80 115.20,315.16 115.90,310.52 116.60,305.88 117.30,301.24 118.00,296.60 118.85,301.55 119.70,306.50 120.55,311.45 121.40,316.40 122.30,310.03 123.20,303.67 124.10,297.30 125.00,304.10 125.90,310.90 126.80,317.70 127.65,313.10 128.50,308.50 129.35,303.90 130.20,299.30 130.90,302.41 131.60,302.57 132.30,305.50 133.30,303.25 134.30,302.00 135.70,306.10 136.60,306.20 137.50,302.50 138.40,302.00 139.25,306.10 140.10,310.20 140.95,314.30 141.80,318.40 142.73,312.93 143.67,307.47 144.60,302.00 145.50,307.23 146.40,312.47 147.30,317.70 148.20,310.67 149.10,303.63 150.00,296.60 150.75,302.05 151.50,307.50 152.25,312.95 153.00,318.40 153.80,313.45 154.60,308.50 155.40,303.55 156.20,298.60 157.05,303.38 157.90,308.15 158.75,312.93 159.60,317.70 160.33,313.69 161.07,310.47 161.80,309.10 162.70,312.85 163.60,315.50 164.30,319.93 165.00,320.87 165.70,325.63 166.40,329.10 167.30,322.87 168.20,317.30 169.10,315.22 170.00,313.38 170.90,312.70 171.80,319.97 172.70,327.23 173.60,334.50 174.38,328.82 175.15,323.15 175.92,317.48 176.70,311.80 177.52,319.52 178.35,327.25 179.18,334.98 180.00,342.70 180.90,336.33 181.80,329.97 182.70,323.60 183.40,325.73 184.10,327.45 184.80,332.45 185.50,333.60 186.40,330.84 187.30,330.11 188.20,328.20 189.10,331.38 190.00,334.17 190.90,336.40 191.80,333.88 192.70,331.61 193.60,329.10 194.30,333.45 195.00,333.96 195.70,336.99 196.40,340.90 197.45,333.92 198.50,328.20 199.30,332.60 200.10,335.22 200.90,339.10 201.80,336.01 202.70,332.28 203.60,330.90 204.30,332.43 205.00,336.84 205.70,338.21 206.40,341.80 207.30,337.14 208.20,331.89 209.10,328.20 210.00,333.33 210.90,338.47 211.80,343.60 212.70,338.16 213.60,332.95 214.50,329.10 215.20,333.36 215.90,335.40 216.60,337.91 217.30,340.90 218.20,336.70 219.10,335.31 220.00,330.90 220.90,334.73 221.80,336.99 222.70,341.80 223.40,337.83 224.10,337.34 224.80,332.38 225.50,330.00 226.40,333.95 227.30,337.17 228.20,342.70 229.10,340.86 230.00,335.82 230.90,333.60 231.80,337.44 232.70,341.58 233.60,344.50 234.30,341.45 235.00,337.75 235.70,334.21 236.40,331.80 237.30,336.97 238.20,340.90 239.40,325.00 240.10,315.45 240.80,305.90 241.80,303.77 242.80,303.20 243.85,304.92 244.90,305.90 246.20,292.30 246.90,292.86 247.60,291.85 248.30,289.60 249.30,293.55 250.30,296.40 251.20,290.47 252.10,284.53 253.00,278.60 254.05,283.01 255.10,286.80 255.80,289.11 256.50,293.60 257.50,289.15 258.50,282.70 259.20,286.31 259.90,286.81 260.60,289.60 261.60,286.80 262.60,286.80 263.60,287.60 264.60,288.20 265.65,285.93 266.70,284.10 267.70,287.97 268.70,289.60 269.40,293.81 270.10,296.40 271.15,294.13 272.20,292.30 273.10,294.67 274.00,296.77 274.90,299.10 275.90,296.22 276.90,292.30 277.77,294.31 278.63,295.94 279.50,297.00 280.23,298.00 280.95,301.77 281.67,301.27 282.40,304.60 283.30,302.01 284.20,301.11 285.10,299.10 286.00,299.41 286.90,303.09 287.80,304.60 288.53,302.16 289.27,300.34 290.00,299.00 291.20,292.00 292.20,280.90 292.90,291.75 293.60,302.60 294.50,302.46 295.40,304.62 296.30,306.20 297.20,307.98 298.10,307.82 299.00,310.80 299.70,311.18 300.40,310.95 301.10,308.77 301.80,308.00 302.70,311.80 303.60,316.29 304.50,318.90 305.40,312.14 306.30,304.40 307.20,309.48 308.10,313.50 309.00,314.92 309.90,316.57 310.80,318.00 311.50,316.89 312.20,315.39 312.90,316.86 313.60,315.30 314.50,317.03 315.40,316.11 316.30,318.90 317.20,321.59 318.10,324.05 319.00,324.30 319.90,321.61 320.80,320.84 321.70,317.10 322.60,318.59 323.50,322.32 324.40,324.30 325.10,324.49 325.80,322.47 326.50,322.00 327.33,322.10 328.17,322.37 329.00,324.30 329.90,319.20 330.80,314.10 331.70,309.00 332.60,318.50 333.50,328.00 334.40,328.14 335.30,327.38 336.20,328.00 337.10,330.62 338.00,333.40 338.90,320.70 339.80,308.00 340.50,363.00 341.21,363.37 341.91,362.15 342.62,362.70 343.32,361.53 344.03,363.52 344.73,363.74 345.44,362.34 346.14,362.07 346.85,363.43 347.55,362.85 348.26,364.01 348.96,363.80 349.67,362.85 350.37,362.77 351.08,363.26 351.78,363.32 352.49,362.92 353.19,363.14 353.90,362.59 354.60,363.62 355.31,362.95 356.01,361.82 356.72,363.42 357.42,362.44 358.13,362.48 358.83,363.27 359.54,364.19 360.24,362.69 360.95,362.69 361.65,363.44 362.36,364.12 363.06,363.96 363.77,364.56 364.47,361.60 365.18,363.10 365.88,362.56 366.59,362.57 367.29,362.39 368.00,363.29 368.71,363.83 369.41,363.50 370.12,361.63 370.82,362.89 371.53,364.05 372.23,362.64 372.94,362.29 373.64,362.54 374.35,363.36 375.05,362.37 375.76,361.96 376.46,361.44 377.17,361.82 377.87,363.58 378.58,361.61 379.28,362.45 379.99,362.28 380.69,364.00 381.40,364.05 382.10,361.53 382.81,361.84 383.51,362.21 384.22,361.89 384.92,362.93 385.63,364.42 386.33,362.69 387.04,363.58 387.74,363.03 388.45,364.35 389.15,362.66 389.86,363.52 390.56,361.78 391.27,362.59 391.97,361.51 392.68,363.04 393.38,363.43 394.09,362.02 394.79,362.94 395.50,363.00 396.00,358.80 396.50,363.00 397.21,363.58 397.91,362.44 398.62,364.39 399.33,361.64 400.03,362.55 400.74,364.53 401.45,364.50 402.15,362.98 402.86,361.96 403.57,362.46 404.27,362.70 404.98,362.55 405.69,362.79 406.39,362.55 407.10,364.24 407.81,361.52 408.51,364.11 409.22,362.61 409.93,364.53 410.63,364.28 411.34,364.31 412.05,363.09 412.75,364.13 413.46,361.84 414.17,362.47 414.87,361.82 415.58,361.55 416.29,364.36 416.99,362.59 417.70,362.11 418.41,364.25 419.11,363.99 419.82,363.36 420.53,362.35 421.23,361.76 421.94,361.80 422.65,363.36 423.35,364.32 424.06,363.45 424.77,362.22 425.47,361.91 426.18,364.08 426.89,363.84 427.59,362.97 428.30,363.00 428.80,359.00 429.30,363.00 430.01,363.28 430.72,361.57 431.42,361.84 432.13,364.51 432.84,361.50 433.55,363.98 434.25,361.94 434.96,363.75 435.67,361.89 436.38,361.72 437.08,363.55 437.79,364.40 438.50,363.00" fill="none" stroke="#ff3232" stroke-width="2.9" stroke-linejoin="round" stroke-linecap="round" />
</g>
<line x1="238.6" y1="360.6" x2="238.6" y2="246.6" stroke="#1a1a1a" stroke-width="1.6" stroke-dasharray="7.7 5.46"/>
<rect x="412" y="340.0" width="25.0" height="18" fill="#fff"/><text x="415.2" y="353.3" font-family="Liberation Sans, sans-serif" font-weight="bold" font-size="11.2" fill="#000">(c)</text>
<line x1="136.60" y1="360.6" x2="136.60" y2="356.8" stroke="#6a6a6a" stroke-width="1.5"/>
<line x1="136.60" y1="246.6" x2="136.60" y2="250.4" stroke="#6a6a6a" stroke-width="1.5"/>
<line x1="212.28" y1="360.6" x2="212.28" y2="356.8" stroke="#6a6a6a" stroke-width="1.5"/>
<line x1="212.28" y1="246.6" x2="212.28" y2="250.4" stroke="#6a6a6a" stroke-width="1.5"/>
<line x1="287.96" y1="360.6" x2="287.96" y2="356.8" stroke="#6a6a6a" stroke-width="1.5"/>
<line x1="287.96" y1="246.6" x2="287.96" y2="250.4" stroke="#6a6a6a" stroke-width="1.5"/>
<line x1="363.64" y1="360.6" x2="363.64" y2="356.8" stroke="#6a6a6a" stroke-width="1.5"/>
<line x1="363.64" y1="246.6" x2="363.64" y2="250.4" stroke="#6a6a6a" stroke-width="1.5"/>
<line x1="61.5" y1="332.10" x2="65.3" y2="332.10" stroke="#6a6a6a" stroke-width="1.5"/>
<line x1="438.5" y1="332.10" x2="434.7" y2="332.10" stroke="#6a6a6a" stroke-width="1.5"/>
<line x1="61.5" y1="303.60" x2="65.3" y2="303.60" stroke="#6a6a6a" stroke-width="1.5"/>
<line x1="438.5" y1="303.60" x2="434.7" y2="303.60" stroke="#6a6a6a" stroke-width="1.5"/>
<line x1="61.5" y1="275.10" x2="65.3" y2="275.10" stroke="#6a6a6a" stroke-width="1.5"/>
<line x1="438.5" y1="275.10" x2="434.7" y2="275.10" stroke="#6a6a6a" stroke-width="1.5"/>
<rect x="61.5" y="246.6" width="377.0" height="114.00000000000003" fill="none" stroke="#6a6a6a" stroke-width="1.2"/>
<text x="65.3" y="261.6" font-family="Liberation Sans, sans-serif" font-weight="bold" font-size="11.2" fill="#000">Line-integrated density</text>
<line x1="61.5" y1="472.33" x2="438.5" y2="472.33" stroke="#c8c8c8" stroke-width="0.9" stroke-dasharray="1 2.27"/>
<line x1="61.5" y1="465.62" x2="438.5" y2="465.62" stroke="#c8c8c8" stroke-width="0.9" stroke-dasharray="1 2.27"/>
<line x1="61.5" y1="460.86" x2="438.5" y2="460.86" stroke="#c8c8c8" stroke-width="0.9" stroke-dasharray="1 2.27"/>
<line x1="61.5" y1="457.17" x2="438.5" y2="457.17" stroke="#c8c8c8" stroke-width="0.9" stroke-dasharray="1 2.27"/>
<line x1="61.5" y1="454.15" x2="438.5" y2="454.15" stroke="#c8c8c8" stroke-width="0.9" stroke-dasharray="1 2.27"/>
<line x1="61.5" y1="451.60" x2="438.5" y2="451.60" stroke="#c8c8c8" stroke-width="0.9" stroke-dasharray="1 2.27"/>
<line x1="61.5" y1="449.39" x2="438.5" y2="449.39" stroke="#c8c8c8" stroke-width="0.9" stroke-dasharray="1 2.27"/>
<line x1="61.5" y1="447.44" x2="438.5" y2="447.44" stroke="#c8c8c8" stroke-width="0.9" stroke-dasharray="1 2.27"/>
<line x1="61.5" y1="434.23" x2="438.5" y2="434.23" stroke="#c8c8c8" stroke-width="0.9" stroke-dasharray="1 2.27"/>
<line x1="61.5" y1="427.52" x2="438.5" y2="427.52" stroke="#c8c8c8" stroke-width="0.9" stroke-dasharray="1 2.27"/>
<line x1="61.5" y1="422.76" x2="438.5" y2="422.76" stroke="#c8c8c8" stroke-width="0.9" stroke-dasharray="1 2.27"/>
<line x1="61.5" y1="419.07" x2="438.5" y2="419.07" stroke="#c8c8c8" stroke-width="0.9" stroke-dasharray="1 2.27"/>
<line x1="61.5" y1="416.05" x2="438.5" y2="416.05" stroke="#c8c8c8" stroke-width="0.9" stroke-dasharray="1 2.27"/>
<line x1="61.5" y1="413.50" x2="438.5" y2="413.50" stroke="#c8c8c8" stroke-width="0.9" stroke-dasharray="1 2.27"/>
<line x1="61.5" y1="411.29" x2="438.5" y2="411.29" stroke="#c8c8c8" stroke-width="0.9" stroke-dasharray="1 2.27"/>
<line x1="61.5" y1="409.34" x2="438.5" y2="409.34" stroke="#c8c8c8" stroke-width="0.9" stroke-dasharray="1 2.27"/>
<line x1="61.5" y1="396.13" x2="438.5" y2="396.13" stroke="#c8c8c8" stroke-width="0.9" stroke-dasharray="1 2.27"/>
<line x1="61.5" y1="389.42" x2="438.5" y2="389.42" stroke="#c8c8c8" stroke-width="0.9" stroke-dasharray="1 2.27"/>
<line x1="61.5" y1="384.66" x2="438.5" y2="384.66" stroke="#c8c8c8" stroke-width="0.9" stroke-dasharray="1 2.27"/>
<line x1="61.5" y1="380.97" x2="438.5" y2="380.97" stroke="#c8c8c8" stroke-width="0.9" stroke-dasharray="1 2.27"/>
<line x1="61.5" y1="377.95" x2="438.5" y2="377.95" stroke="#c8c8c8" stroke-width="0.9" stroke-dasharray="1 2.27"/>
<line x1="61.5" y1="375.40" x2="438.5" y2="375.40" stroke="#c8c8c8" stroke-width="0.9" stroke-dasharray="1 2.27"/>
<line x1="61.5" y1="373.19" x2="438.5" y2="373.19" stroke="#c8c8c8" stroke-width="0.9" stroke-dasharray="1 2.27"/>
<line x1="61.5" y1="371.24" x2="438.5" y2="371.24" stroke="#c8c8c8" stroke-width="0.9" stroke-dasharray="1 2.27"/>
<line x1="136.60" y1="369.5" x2="136.60" y2="483.8" stroke="#e4e4e4" stroke-width="1.2"/>
<line x1="212.28" y1="369.5" x2="212.28" y2="483.8" stroke="#e4e4e4" stroke-width="1.2"/>
<line x1="287.96" y1="369.5" x2="287.96" y2="483.8" stroke="#e4e4e4" stroke-width="1.2"/>
<line x1="363.64" y1="369.5" x2="363.64" y2="483.8" stroke="#e4e4e4" stroke-width="1.2"/>
<line x1="61.5" y1="445.70" x2="438.5" y2="445.70" stroke="#e4e4e4" stroke-width="1.2"/>
<line x1="61.5" y1="407.60" x2="438.5" y2="407.60" stroke="#e4e4e4" stroke-width="1.2"/>
<g clip-path="url(#clipd)">
<rect x="149" y="476.6" width="5.00" height="7.20" fill="#ff3232"/>
<rect x="154" y="472" width="1.80" height="11.80" fill="#ff3232"/>
<rect x="155.8" y="476.6" width="1.20" height="7.20" fill="#ff3232"/>
<rect x="157" y="472" width="2.20" height="11.80" fill="#ff3232"/>
<rect x="159.2" y="476.6" width="11.80" height="7.20" fill="#ff3232"/>
<rect x="171" y="472" width="15.00" height="11.80" fill="#ff3232"/>
<rect x="186" y="468" width="4.50" height="15.80" fill="#ff3232"/>
<rect x="190.5" y="472" width="0.75" height="11.80" fill="#ff3232"/>
<rect x="191.25" y="472" width="4.35" height="11.80" fill="#ff3232"/>
<rect x="195.6" y="468" width="2.50" height="15.80" fill="#ff3232"/>
<rect x="198.1" y="472" width="1.90" height="11.80" fill="#ff3232"/>
<rect x="200" y="467.5" width="15.00" height="11.25" fill="#ff3232"/>
<rect x="210" y="467.5" width="2.50" height="16.30" fill="#ff3232"/>
<rect x="215" y="467" width="15.00" height="6.75" fill="#ff3232"/>
<rect x="230" y="466" width="2.00" height="12.75" fill="#ff3232"/>
<rect x="232" y="466" width="4.50" height="7.75" fill="#ff3232"/>
<rect x="236.5" y="464.5" width="2.40" height="9.25" fill="#ff3232"/>
<rect x="202" y="465" width="1.00" height="3.00" fill="#ff3232"/>
<rect x="207" y="465.5" width="1.00" height="2.50" fill="#ff3232"/>
<rect x="225" y="464.5" width="1.00" height="2.50" fill="#ff3232"/>
<rect x="219" y="465" width="1.00" height="2.00" fill="#ff3232"/>
<rect x="187.6" y="478.9" width="4.00" height="4.90" fill="#0000d0"/>
<rect x="198.75" y="478.75" width="11.25" height="5.05" fill="#0000d0"/>
<rect x="212.5" y="478.75" width="2.50" height="5.05" fill="#0000d0"/>
<rect x="215" y="473.75" width="15.00" height="5.00" fill="#0000d0"/>
<rect x="221.9" y="478.75" width="1.85" height="5.05" fill="#0000d0"/>
<rect x="232" y="473.75" width="6.90" height="5.00" fill="#0000d0"/>
<rect x="233" y="478.75" width="1.50" height="5.05" fill="#0000d0"/>
<rect x="236.5" y="478.75" width="2.40" height="5.05" fill="#0000d0"/>
<rect x="153" y="476.6" width="1.20" height="7.20" fill="#00c400"/>
<rect x="172.8" y="478.9" width="2.00" height="4.90" fill="#00c400"/>
<rect x="175.7" y="472" width="1.10" height="4.00" fill="#00c400"/>
<rect x="182" y="472" width="1.00" height="4.00" fill="#00c400"/>
<rect x="186.5" y="478" width="1.10" height="5.80" fill="#00c400"/>
<rect x="195.5" y="467.5" width="2.00" height="3.00" fill="#00c400"/>
<rect x="211" y="465" width="3.00" height="2.50" fill="#00c400"/>
<rect x="219.5" y="465" width="1.50" height="2.50" fill="#00c400"/>
<rect x="224" y="465" width="1.50" height="2.50" fill="#00c400"/>
<rect x="236.5" y="462.5" width="1.30" height="3.00" fill="#00c400"/>
<rect x="382.4" y="476.5" width="1.8" height="7.3" fill="#00c400"/>
<rect x="384.7" y="476.5" width="1.8" height="7.3" fill="#00c400"/>
<rect x="387.0" y="476.5" width="1.8" height="7.3" fill="#00c400"/>
<polyline points="239.00,482.00 239.60,460.00 240.30,430.00 241.00,410.00 241.80,394.00 242.40,410.00 242.80,440.00 243.50,441.25 244.73,442.84 246.50,442.37 247.73,439.89 249.58,439.20 251.41,436.57 252.66,437.26 254.21,434.71 256.29,434.26 257.43,432.50 258.93,433.70 260.37,432.39 262.41,433.32 263.74,432.01 265.38,433.89 267.31,432.05 268.62,433.61 270.69,432.20 272.52,433.45 274.26,431.84 276.15,433.13 277.45,431.27 278.40,432.08 279.00,410.00 279.60,432.02 280.23,431.43 281.73,432.77 283.65,430.65 285.71,432.91 287.59,431.09 288.87,432.40 290.52,430.52 291.73,431.60 293.73,429.98 295.52,430.80 297.02,429.07 298.77,431.10 300.08,429.07 301.96,430.18 303.84,428.51 305.08,429.47 307.14,428.53 308.45,429.29 310.25,427.44 311.83,429.03 313.70,427.57 315.18,428.73 316.91,427.54 318.14,428.22 319.96,426.98 321.60,427.92 322.20,418.20 322.80,427.95 323.37,426.98 325.44,428.58 326.57,427.43 327.96,428.47 329.13,427.72 331.08,428.41 332.79,427.72 334.09,429.22 335.50,427.84 337.05,429.25 338.68,427.36 340.18,429.22 341.99,427.62 343.80,428.81 345.05,427.64 347.00,427.80 347.60,396.40 348.20,427.68 348.94,426.70 350.62,427.92 352.56,427.22 354.09,428.00 355.57,427.13 357.10,428.64 358.74,427.29 360.61,428.74 362.52,427.51 364.23,428.87 365.60,427.32 367.50,428.33 369.01,426.71 370.50,428.15 371.82,427.14 373.61,428.29 375.47,427.38 376.90,427.67 377.50,396.25 378.10,427.66 378.41,426.94 380.43,428.15 381.73,427.36 383.31,428.15 384.88,427.37 386.00,428.21 387.85,427.06 389.85,428.37 391.35,426.58 392.70,428.38 394.63,426.78 396.06,427.86 397.73,427.10 399.21,428.27 401.23,426.53 402.85,428.38 404.27,426.61 404.90,427.18 405.50,398.75 406.10,427.10 407.37,426.39 409.28,427.37 411.08,426.49 413.11,427.55 414.40,426.56 415.00,386.25 415.60,426.49 416.43,426.73 417.79,425.63 419.40,426.24 420.00,411.25 420.60,426.16 421.03,425.59 422.19,426.69 423.83,425.29 425.09,426.13 426.98,425.09 428.56,426.34 430.34,424.43 432.25,426.34 433.70,424.91 434.90,426.30 436.08,424.37 437.20,425.08 437.80,421.25 438.40,425.01" fill="none" stroke="#0000d0" stroke-width="2.4" stroke-linejoin="round" stroke-linecap="round" />
<polyline points="240.90,445.00 243.00,434.00 244.00,432.79 245.73,429.25 247.11,429.75 248.40,427.87 249.00,410.00 249.60,427.47 250.40,427.20 251.00,422.00 251.60,426.80 252.10,425.91 254.15,426.74 255.69,424.75 257.42,426.32 258.84,424.98 260.01,426.45 261.40,425.54 262.00,395.00 262.60,425.46 263.77,426.52 265.40,425.29 266.00,392.00 266.60,425.21 268.72,424.57 269.10,425.06 269.70,397.00 270.30,424.99 271.88,424.55 273.31,425.31 274.69,424.52 275.40,424.73 276.00,406.00 276.60,424.67 277.82,424.19 279.04,424.82 279.40,424.53 280.00,415.00 280.60,424.53 281.00,423.60 282.66,425.00 283.00,424.66 283.60,403.60 284.20,424.73 284.90,424.77 285.50,402.00 286.10,424.84 286.73,424.43 288.03,425.81 289.59,424.33 291.06,425.86 293.00,425.21 293.60,387.30 294.20,425.28 295.60,424.37 296.83,426.50 297.96,424.73 298.50,425.54 299.10,407.30 299.70,425.72 301.48,425.07 302.76,426.89 304.47,426.16 305.67,427.43 307.49,426.19 308.50,427.03 309.10,375.50 309.70,427.21 310.39,426.23 312.43,428.31 313.57,427.16 315.46,428.61 316.68,427.82 318.48,429.30 319.88,427.79 321.73,430.03 323.65,428.44 325.54,430.46 327.60,429.59 328.20,394.50 328.80,429.74 329.18,430.52 331.12,429.21 332.93,430.89 333.40,430.53 334.00,390.50 334.60,430.79 335.82,431.84 337.13,430.90 339.16,432.06 341.17,431.20 342.84,433.73 344.40,432.77 345.00,423.75 345.60,432.88 346.64,433.62 348.50,433.15 349.10,419.00 349.70,433.26 351.03,432.39 352.91,434.02 354.14,433.08 356.02,435.04 357.98,433.57 359.82,436.40 360.96,435.49 361.40,435.88 362.00,391.25 362.60,436.28 362.90,437.21 364.34,436.44 365.78,437.80 367.37,437.04 368.69,438.42 370.00,438.14 371.40,438.92 372.00,376.25 372.60,439.28 374.11,440.41 375.84,439.74 376.98,440.81 377.60,440.65 378.20,383.75 378.80,440.95 379.79,441.73 380.60,441.00 381.20,383.75 381.90,384.00 382.30,490.00" fill="none" stroke="#00c400" stroke-width="2.4" stroke-linejoin="round" stroke-linecap="round" />
<polyline points="239.00,470.00 240.40,444.00 241.30,432.00 241.80,414.00 242.50,434.00 243.50,433.81 244.83,431.64 246.81,431.31 248.62,429.35 250.23,429.97 251.85,427.24 253.82,428.32 255.10,427.30 255.70,392.00 256.30,427.02 258.00,426.09 259.10,427.22 259.70,398.00 260.30,427.31 261.24,427.06 262.47,428.64 263.70,427.16 264.84,427.92 266.00,427.14 267.10,427.79 267.70,408.00 268.30,427.88 269.29,427.55 271.19,429.13 273.10,428.46 273.70,394.00 274.30,428.64 274.71,429.51 276.05,428.35 277.40,429.11 278.00,402.00 278.60,429.29 279.47,428.77 280.66,430.43 281.90,430.18 282.50,404.00 283.10,430.60 284.36,431.38 285.54,430.59 286.30,431.74 286.90,401.80 287.50,432.17 288.19,431.99 289.35,433.05 291.38,432.52 291.80,433.55 292.40,379.00 293.00,433.92 293.41,434.76 295.45,433.59 297.16,435.93 298.77,435.16 300.25,436.84 301.56,435.11 303.40,436.53 304.00,415.50 304.60,436.77 305.08,436.00 306.33,437.59 307.45,437.05 309.49,438.33 311.54,436.73 312.96,439.03 314.96,437.38 316.16,438.72 316.70,438.32 317.30,429.00 317.90,438.79 318.64,440.01 320.70,439.46 322.57,441.44 324.16,440.16 325.64,442.90 326.79,441.27 327.60,442.83 328.20,413.60 328.80,443.42 330.05,443.11 331.20,444.61 331.80,387.30 332.40,445.26 333.30,445.49 334.73,447.92 336.79,447.63 337.90,448.81 338.50,397.30 339.10,449.41 340.40,390.00 341.00,450.00 341.40,490.00" fill="none" stroke="#ff3232" stroke-width="2.4" stroke-linejoin="round" stroke-linecap="round" />
</g>
<line x1="238.6" y1="483.8" x2="238.6" y2="369.5" stroke="#1a1a1a" stroke-width="1.6" stroke-dasharray="7.7 5.46"/>
<rect x="412" y="463.2" width="25.0" height="18" fill="#fff"/><text x="415.2" y="476.5" font-family="Liberation Sans, sans-serif" font-weight="bold" font-size="11.2" fill="#000">(d)</text>
<line x1="136.60" y1="483.8" x2="136.60" y2="480.0" stroke="#6a6a6a" stroke-width="1.5"/>
<line x1="136.60" y1="369.5" x2="136.60" y2="373.3" stroke="#6a6a6a" stroke-width="1.5"/>
<line x1="212.28" y1="483.8" x2="212.28" y2="480.0" stroke="#6a6a6a" stroke-width="1.5"/>
<line x1="212.28" y1="369.5" x2="212.28" y2="373.3" stroke="#6a6a6a" stroke-width="1.5"/>
<line x1="287.96" y1="483.8" x2="287.96" y2="480.0" stroke="#6a6a6a" stroke-width="1.5"/>
<line x1="287.96" y1="369.5" x2="287.96" y2="373.3" stroke="#6a6a6a" stroke-width="1.5"/>
<line x1="363.64" y1="483.8" x2="363.64" y2="480.0" stroke="#6a6a6a" stroke-width="1.5"/>
<line x1="363.64" y1="369.5" x2="363.64" y2="373.3" stroke="#6a6a6a" stroke-width="1.5"/>
<line x1="61.5" y1="445.70" x2="65.3" y2="445.70" stroke="#6a6a6a" stroke-width="1.5"/>
<line x1="438.5" y1="445.70" x2="434.7" y2="445.70" stroke="#6a6a6a" stroke-width="1.5"/>
<line x1="61.5" y1="407.60" x2="65.3" y2="407.60" stroke="#6a6a6a" stroke-width="1.5"/>
<line x1="438.5" y1="407.60" x2="434.7" y2="407.60" stroke="#6a6a6a" stroke-width="1.5"/>
<line x1="61.5" y1="472.33" x2="63.7" y2="472.33" stroke="#6a6a6a" stroke-width="0.9"/>
<line x1="438.5" y1="472.33" x2="436.3" y2="472.33" stroke="#6a6a6a" stroke-width="0.9"/>
<line x1="61.5" y1="465.62" x2="63.7" y2="465.62" stroke="#6a6a6a" stroke-width="0.9"/>
<line x1="438.5" y1="465.62" x2="436.3" y2="465.62" stroke="#6a6a6a" stroke-width="0.9"/>
<line x1="61.5" y1="460.86" x2="63.7" y2="460.86" stroke="#6a6a6a" stroke-width="0.9"/>
<line x1="438.5" y1="460.86" x2="436.3" y2="460.86" stroke="#6a6a6a" stroke-width="0.9"/>
<line x1="61.5" y1="457.17" x2="63.7" y2="457.17" stroke="#6a6a6a" stroke-width="0.9"/>
<line x1="438.5" y1="457.17" x2="436.3" y2="457.17" stroke="#6a6a6a" stroke-width="0.9"/>
<line x1="61.5" y1="454.15" x2="63.7" y2="454.15" stroke="#6a6a6a" stroke-width="0.9"/>
<line x1="438.5" y1="454.15" x2="436.3" y2="454.15" stroke="#6a6a6a" stroke-width="0.9"/>
<line x1="61.5" y1="451.60" x2="63.7" y2="451.60" stroke="#6a6a6a" stroke-width="0.9"/>
<line x1="438.5" y1="451.60" x2="436.3" y2="451.60" stroke="#6a6a6a" stroke-width="0.9"/>
<line x1="61.5" y1="449.39" x2="63.7" y2="449.39" stroke="#6a6a6a" stroke-width="0.9"/>
<line x1="438.5" y1="449.39" x2="436.3" y2="449.39" stroke="#6a6a6a" stroke-width="0.9"/>
<line x1="61.5" y1="447.44" x2="63.7" y2="447.44" stroke="#6a6a6a" stroke-width="0.9"/>
<line x1="438.5" y1="447.44" x2="436.3" y2="447.44" stroke="#6a6a6a" stroke-width="0.9"/>
<line x1="61.5" y1="434.23" x2="63.7" y2="434.23" stroke="#6a6a6a" stroke-width="0.9"/>
<line x1="438.5" y1="434.23" x2="436.3" y2="434.23" stroke="#6a6a6a" stroke-width="0.9"/>
<line x1="61.5" y1="427.52" x2="63.7" y2="427.52" stroke="#6a6a6a" stroke-width="0.9"/>
<line x1="438.5" y1="427.52" x2="436.3" y2="427.52" stroke="#6a6a6a" stroke-width="0.9"/>
<line x1="61.5" y1="422.76" x2="63.7" y2="422.76" stroke="#6a6a6a" stroke-width="0.9"/>
<line x1="438.5" y1="422.76" x2="436.3" y2="422.76" stroke="#6a6a6a" stroke-width="0.9"/>
<line x1="61.5" y1="419.07" x2="63.7" y2="419.07" stroke="#6a6a6a" stroke-width="0.9"/>
<line x1="438.5" y1="419.07" x2="436.3" y2="419.07" stroke="#6a6a6a" stroke-width="0.9"/>
<line x1="61.5" y1="416.05" x2="63.7" y2="416.05" stroke="#6a6a6a" stroke-width="0.9"/>
<line x1="438.5" y1="416.05" x2="436.3" y2="416.05" stroke="#6a6a6a" stroke-width="0.9"/>
<line x1="61.5" y1="413.50" x2="63.7" y2="413.50" stroke="#6a6a6a" stroke-width="0.9"/>
<line x1="438.5" y1="413.50" x2="436.3" y2="413.50" stroke="#6a6a6a" stroke-width="0.9"/>
<line x1="61.5" y1="411.29" x2="63.7" y2="411.29" stroke="#6a6a6a" stroke-width="0.9"/>
<line x1="438.5" y1="411.29" x2="436.3" y2="411.29" stroke="#6a6a6a" stroke-width="0.9"/>
<line x1="61.5" y1="409.34" x2="63.7" y2="409.34" stroke="#6a6a6a" stroke-width="0.9"/>
<line x1="438.5" y1="409.34" x2="436.3" y2="409.34" stroke="#6a6a6a" stroke-width="0.9"/>
<line x1="61.5" y1="396.13" x2="63.7" y2="396.13" stroke="#6a6a6a" stroke-width="0.9"/>
<line x1="438.5" y1="396.13" x2="436.3" y2="396.13" stroke="#6a6a6a" stroke-width="0.9"/>
<line x1="61.5" y1="389.42" x2="63.7" y2="389.42" stroke="#6a6a6a" stroke-width="0.9"/>
<line x1="438.5" y1="389.42" x2="436.3" y2="389.42" stroke="#6a6a6a" stroke-width="0.9"/>
<line x1="61.5" y1="384.66" x2="63.7" y2="384.66" stroke="#6a6a6a" stroke-width="0.9"/>
<line x1="438.5" y1="384.66" x2="436.3" y2="384.66" stroke="#6a6a6a" stroke-width="0.9"/>
<line x1="61.5" y1="380.97" x2="63.7" y2="380.97" stroke="#6a6a6a" stroke-width="0.9"/>
<line x1="438.5" y1="380.97" x2="436.3" y2="380.97" stroke="#6a6a6a" stroke-width="0.9"/>
<line x1="61.5" y1="377.95" x2="63.7" y2="377.95" stroke="#6a6a6a" stroke-width="0.9"/>
<line x1="438.5" y1="377.95" x2="436.3" y2="377.95" stroke="#6a6a6a" stroke-width="0.9"/>
<line x1="61.5" y1="375.40" x2="63.7" y2="375.40" stroke="#6a6a6a" stroke-width="0.9"/>
<line x1="438.5" y1="375.40" x2="436.3" y2="375.40" stroke="#6a6a6a" stroke-width="0.9"/>
<line x1="61.5" y1="373.19" x2="63.7" y2="373.19" stroke="#6a6a6a" stroke-width="0.9"/>
<line x1="438.5" y1="373.19" x2="436.3" y2="373.19" stroke="#6a6a6a" stroke-width="0.9"/>
<line x1="61.5" y1="371.24" x2="63.7" y2="371.24" stroke="#6a6a6a" stroke-width="0.9"/>
<line x1="438.5" y1="371.24" x2="436.3" y2="371.24" stroke="#6a6a6a" stroke-width="0.9"/>
<rect x="61.5" y="369.5" width="377.0" height="114.30000000000001" fill="none" stroke="#6a6a6a" stroke-width="1.2"/>
<text x="65.3" y="384.5" font-family="Liberation Sans, sans-serif" font-weight="bold" font-size="11.2" fill="#000">Ex-vessel HXR</text>
<text x="29.10" y="27.10" font-family="'Liberation Serif', serif" font-size="14" fill="#262626">200</text>
<text x="28.90" y="71.10" font-family="'Liberation Serif', serif" font-size="14" fill="#262626">100</text>
<text x="47.15" y="115.30" font-family="'Liberation Serif', serif" font-size="14" fill="#262626">0</text>
<text x="42.50" y="146.90" font-family="'Liberation Serif', serif" font-size="14" fill="#262626">-2</text>
<text x="42.30" y="184.90" font-family="'Liberation Serif', serif" font-size="14" fill="#262626">-4</text>
<text x="42.00" y="223.10" font-family="'Liberation Serif', serif" font-size="14" fill="#262626">-6</text>
<text x="33.30" y="251.00" font-family="'Liberation Serif', serif" font-size="14" fill="#262626">0.8</text>
<text x="33.30" y="279.70" font-family="'Liberation Serif', serif" font-size="14" fill="#262626">0.6</text>
<text x="32.80" y="308.20" font-family="'Liberation Serif', serif" font-size="14" fill="#262626">0.4</text>
<text x="33.30" y="336.70" font-family="'Liberation Serif', serif" font-size="14" fill="#262626">0.2</text>
<text x="47.30" y="365.20" font-family="'Liberation Serif', serif" font-size="14" fill="#262626">0</text>
<text x="56.85" y="502.70" font-family="'Liberation Serif', serif" font-size="14" fill="#262626">0</text>
<text x="125.20" y="502.70" font-family="'Liberation Serif', serif" font-size="14" fill="#262626">0.2</text>
<text x="200.10" y="502.70" font-family="'Liberation Serif', serif" font-size="14" fill="#262626">0.4</text>
<text x="276.25" y="502.70" font-family="'Liberation Serif', serif" font-size="14" fill="#262626">0.6</text>
<text x="351.62" y="502.70" font-family="'Liberation Serif', serif" font-size="14" fill="#262626">0.8</text>
<text x="434.00" y="502.70" font-family="'Liberation Serif', serif" font-size="14" fill="#262626">1</text>
<text x="31.05" y="414.50" font-family="'Liberation Serif', serif" font-size="14" fill="#262626">10</text>
<text x="49.15" y="407.70" font-family="'Liberation Serif', serif" font-size="11" fill="#262626">0</text>
<text x="27.60" y="453.00" font-family="'Liberation Serif', serif" font-size="14" fill="#262626">10</text>
<text x="45.95" y="446.80" font-family="'Liberation Serif', serif" font-size="11" fill="#262626">-1</text>
<text x="27.60" y="490.90" font-family="'Liberation Serif', serif" font-size="14" fill="#262626">10</text>
<text x="45.85" y="484.70" font-family="'Liberation Serif', serif" font-size="11" fill="#262626">-2</text>
<text x="246.6" y="521.5" font-family="'Liberation Serif', serif" font-size="15" fill="#262626" text-anchor="middle" >t (s)</text>
<text transform="translate(13.05,82.50) rotate(-90)" font-family="'Liberation Serif', serif" font-size="15" fill="#262626">I</text>
<text transform="translate(20.40,77.60) rotate(-90)" font-family="'Liberation Serif', serif" font-size="12.5" fill="#262626">p</text>
<text transform="translate(12.65,65.65) rotate(-90)" font-family="'Liberation Serif', serif" font-size="15" fill="#262626">(kA)</text>
<text transform="translate(13.40,211.40) rotate(-90)" font-family="'Liberation Serif', serif" font-size="15" fill="#262626">I</text>
<text transform="translate(22.45,205.00) rotate(-90)" font-family="'Liberation Serif', serif" font-size="12" fill="#262626">OH</text>
<text transform="translate(12.65,183.30) rotate(-90)" font-family="'Liberation Serif', serif" font-size="15" fill="#262626">(kA)</text>
<text transform="translate(15.85,369.35) rotate(-90)" font-family="'Liberation Serif', serif" font-size="15" fill="#262626">n</text>
<text transform="translate(22.90,360.35) rotate(-90)" font-family="'Liberation Serif', serif" font-size="12" fill="#262626">e int</text>
<text transform="translate(15.05,328.05) rotate(-90)" font-family="'Liberation Serif', serif" font-size="15" fill="#262626">(x10</text>
<text transform="translate(7.80,292.35) rotate(-90)" font-family="'Liberation Serif', serif" font-size="11" fill="#262626">19</text>
<text transform="translate(15.85,273.25) rotate(-90)" font-family="'Liberation Serif', serif" font-size="15" fill="#262626">m</text>
<text transform="translate(7.80,255.60) rotate(-90)" font-family="'Liberation Serif', serif" font-size="11" fill="#262626">-2</text>
<text transform="translate(15.55,245.00) rotate(-90)" font-family="'Liberation Serif', serif" font-size="15" fill="#262626">)</text>
<text transform="translate(15.15,459.30) rotate(-90)" font-family="'Liberation Serif', serif" font-size="14.6" fill="#262626">PMTX (V)</text>
</svg>
</body></html>
